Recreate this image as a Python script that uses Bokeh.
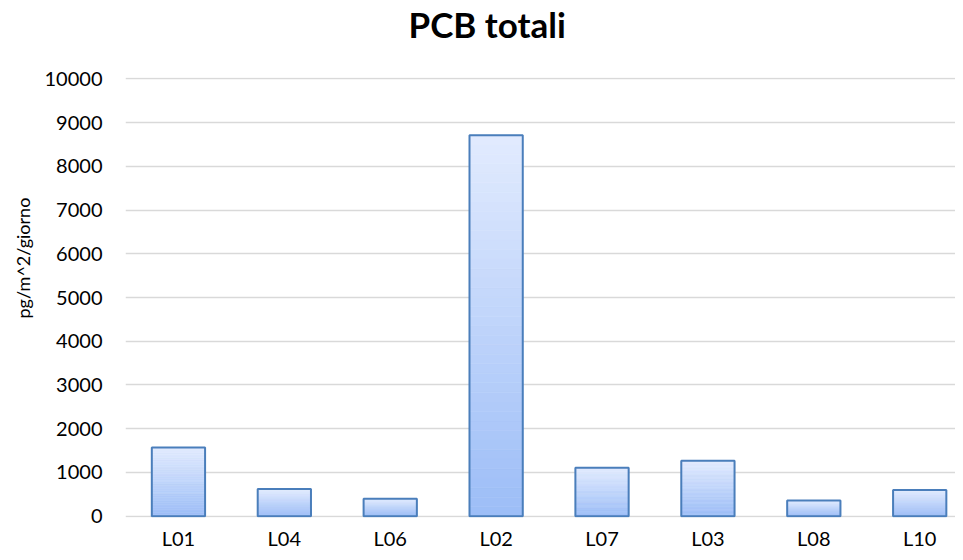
from bokeh.plotting import figure
from bokeh.models import (Range1d, FixedTicker, Title, NumeralTickFormatter,
                          ColumnDataSource, LinearAxis)
from bokeh.embed import file_html
from bokeh.resources import INLINE

# ---- data ----
sites = ["L01", "L04", "L06", "L02", "L07", "L03", "L08", "L10"]
values = [1570, 620, 400, 8710, 1110, 1265, 360, 600]
y_ticks = [0, 1000, 2000, 3000, 4000, 5000, 6000, 7000, 8000, 9000, 10000]
title_text = "PCB totali"
y_label = "pg/m^2/giorno"

FONT = "Lato"
BAR_W = 0.503
N_SEG = 40
top_rgb = (226, 235, 254)
bot_rgb = (156, 189, 247)

p = figure(width=955, height=552, output_backend="svg", toolbar_location=None,
           x_range=Range1d(-0.5, 7.338), y_range=Range1d(-30, 10030),
           min_border_left=125, min_border_right=0, min_border_top=77, min_border_bottom=32)
p.outline_line_color = None
p.background_fill_color = "white"
p.border_fill_color = "white"

xaxis = p.below[0]
yaxis = p.left[0]

# spacer between plot frame and title (invisible tick, empty label)
spacer = LinearAxis(ticker=FixedTicker(ticks=[0]), axis_line_color=None,
                    major_tick_line_color=None, minor_tick_line_color=None,
                    major_tick_out=33, major_tick_in=0, minor_tick_out=0,
                    major_label_standoff=0, axis_label_standoff=0,
                    major_label_overrides={0: ""})
p.add_layout(spacer, "above")

# title (added after spacer -> sits above it)
p.add_layout(Title(text=title_text, align="left", offset=283, standoff=0,
                   text_font=FONT, text_font_size="35px", text_font_style="bold",
                   text_color="black"), "above")

# y label as a left title
p.add_layout(Title(text=y_label, align="left", text_font=FONT, text_font_size="18px",
                   text_font_style="normal", text_color="black", offset=199, standoff=16), "left")

# gradient bars
L, R, B, T, C = [], [], [], [], []
for i, v in enumerate(values):
    for k in range(N_SEG):
        f = (k + 0.5) / N_SEG
        col = tuple(int(round(bot_rgb[j] + (top_rgb[j] - bot_rgb[j]) * f)) for j in range(3))
        L.append(i - BAR_W / 2)
        R.append(i + BAR_W / 2)
        B.append(v * k / N_SEG)
        T.append(v * (k + 1) / N_SEG)
        C.append("#%02x%02x%02x" % col)
p.quad(left=L, right=R, bottom=B, top=T, fill_color=C, line_color=C, line_width=0.6)

src = ColumnDataSource(dict(x=list(range(len(sites))), top=values))
p.vbar(x="x", top="top", width=BAR_W, source=src, fill_color=None,
       line_color="#4a7ebb", line_width=2)

# axes
xaxis.ticker = FixedTicker(ticks=list(range(len(sites))))
xaxis.major_label_overrides = {i: s for i, s in enumerate(sites)}
yaxis.ticker = FixedTicker(ticks=y_ticks)
yaxis.formatter = NumeralTickFormatter(format="0")
for ax in (xaxis, yaxis):
    ax.axis_line_color = None
    ax.major_tick_line_color = None
    ax.minor_tick_line_color = None
    ax.major_tick_out = 0
    ax.major_tick_in = 0
    ax.minor_tick_out = 0
    ax.axis_label_standoff = 0
    ax.major_label_text_font = FONT
    ax.major_label_text_font_size = "20px"
    ax.major_label_text_color = "black"
yaxis.major_label_standoff = 23
xaxis.major_label_standoff = 8

p.xgrid.visible = False
p.ygrid.ticker = FixedTicker(ticks=y_ticks)
p.ygrid.grid_line_color = "#d9d9d9"
p.ygrid.grid_line_width = 1.5
p.ygrid.level = "underlay"

open("out.html", "w").write(file_html(p, INLINE))
